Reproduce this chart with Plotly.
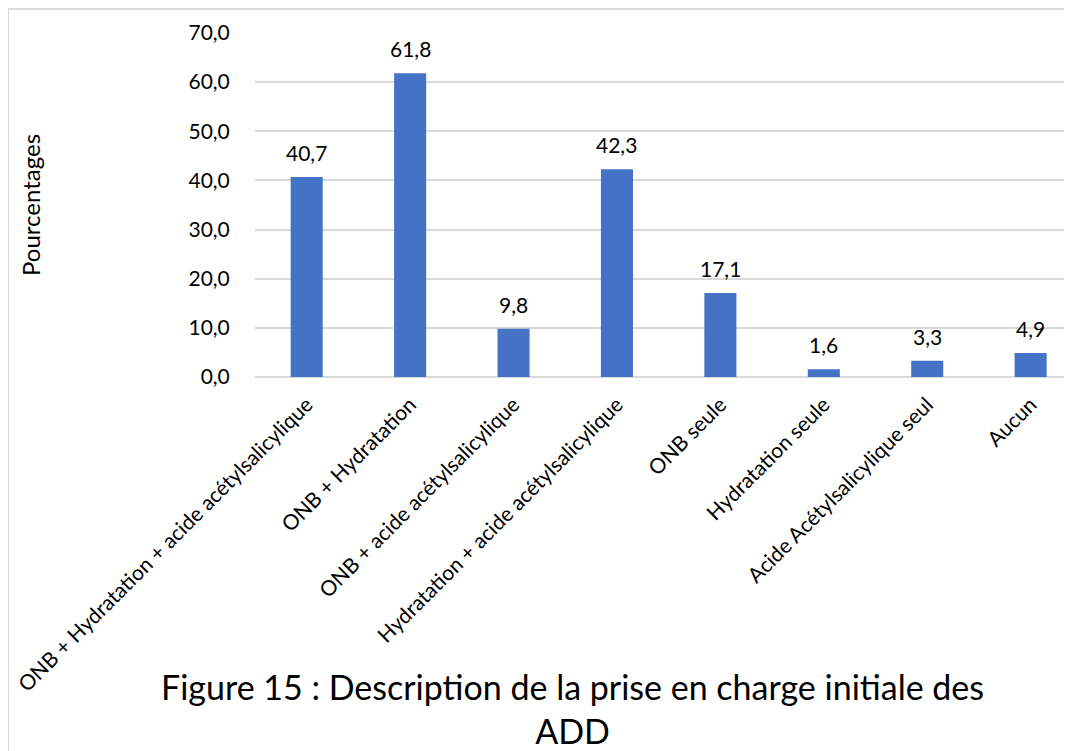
import plotly.graph_objects as go

categories = [
    "ONB + Hydratation + acide acétylsalicylique",
    "ONB + Hydratation",
    "ONB + acide acétylsalicylique",
    "Hydratation + acide acétylsalicylique",
    "ONB seule",
    "Hydratation seule",
    "Acide Acétylsalicylique seul",
    "Aucun",
]
values = [40.7, 61.8, 9.8, 42.3, 17.1, 1.6, 3.3, 4.9]
y_ticks = [0, 10, 20, 30, 40, 50, 60, 70]

FONT = "Lato"
W, H = 1072, 751
OFF = 8  # page body margin
# plot area in screen px, converted to figure px
L, R, T, B = 255 - OFF, 1072 - OFF, 33 - OFF, 377 - OFF

def px_x(px):
    return (px - OFF - L) / (R - L)

def px_y(py):
    return (B - (py - OFF)) / (B - T)

xs = list(range(len(categories)))

fig = go.Figure()
fig.add_trace(go.Bar(
    x=xs,
    y=values,
    marker=dict(color="#4472C4", line=dict(width=0)),
    width=0.31,
    cliponaxis=False,
))

for xi, v in zip(xs, values):
    fig.add_annotation(
        x=xi, y=v, xref="x", yref="y",
        text=f"{v:.1f}".replace(".", ","),
        showarrow=False, xanchor="center", yanchor="bottom",
        yshift=11, borderpad=0,
        font=dict(family=FONT, size=21, color="#000000"),
    )

fig.update_layout(
    width=W, height=H,
    margin=dict(l=L, r=W - R, t=T, b=H - B, pad=0, autoexpand=False),
    paper_bgcolor="white", plot_bgcolor="white",
    separators=", ",
    showlegend=False,
    font=dict(family=FONT, size=21, color="#000000"),
    xaxis=dict(
        tickmode="array",
        tickvals=xs,
        ticktext=categories,
        tickangle=-45,
        range=[-0.5, 7.4],
        automargin=False,
        showgrid=False, zeroline=False, showline=False,
        ticks="outside", ticklen=6, tickcolor="rgba(0,0,0,0)",
        ticklabeloverflow="allow",
        tickfont=dict(family=FONT, size=21, color="#000000"),
    ),
    yaxis=dict(
        range=[0, 70],
        tickmode="array",
        tickvals=y_ticks,
        tickformat=".1f",
        automargin=False,
        showgrid=True, gridcolor="#D9D9D9", gridwidth=1.5,
        zeroline=True, zerolinecolor="#D9D9D9", zerolinewidth=1.5,
        showline=False,
        ticks="outside", ticklen=20, tickcolor="rgba(0,0,0,0)",
        tickfont=dict(family=FONT, size=21, color="#000000"),
    ),
)

fig.add_annotation(
    text="Pourcentages", textangle=-90,
    xref="paper", yref="paper", x=px_x(30), y=px_y(205),
    xanchor="center", yanchor="middle", showarrow=False,
    font=dict(family=FONT, size=24, color="#000000"),
)

fig.add_annotation(
    text="Figure 15 : Description de la prise en charge initiale des<br>ADD",
    xref="paper", yref="paper", x=px_x(572), y=px_y(664),
    xanchor="center", yanchor="top", showarrow=False,
    font=dict(family=FONT, size=34, color="#000000"),
)

fig.add_shape(
    type="rect", xref="paper", yref="paper",
    x0=px_x(8), x1=px_x(1100), y0=px_y(9), y1=px_y(800),
    line=dict(color="#D9D9D9", width=2), fillcolor="rgba(0,0,0,0)",
    layer="below",
)

fig.write_html("out.html")
